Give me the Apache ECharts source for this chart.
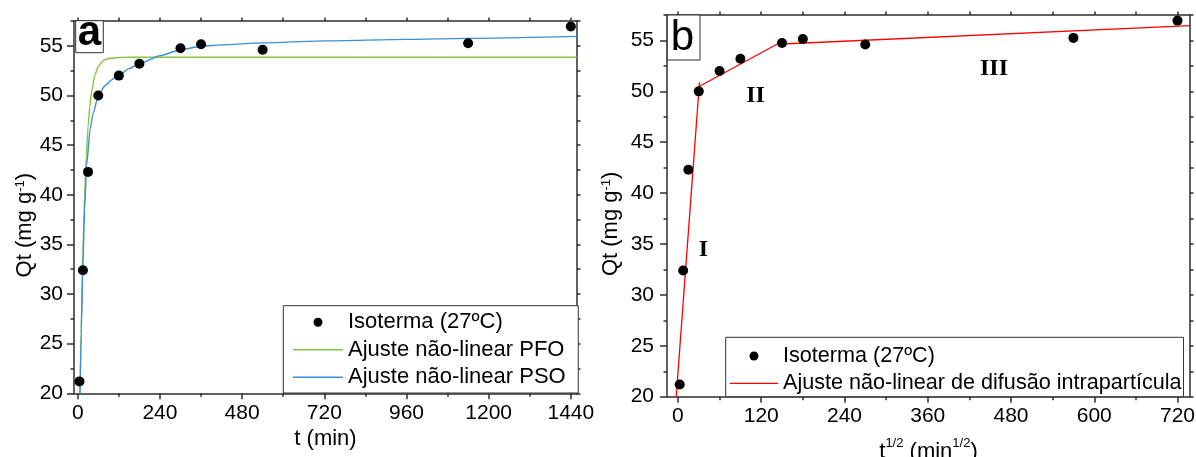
<!DOCTYPE html>
<html>
<head>
<meta charset="utf-8">
<script src="https://cdn.jsdelivr.net/npm/echarts@6/dist/echarts.min.js"></script>
<style>
  html, body { margin: 0; padding: 0; background: #fff; }
  #chart { width: 1196px; height: 457px; }
</style>
</head>
<body>
<div id="chart"></div>
<script>
// Kinetic data: adsorbed amount Qt (mg g-1) versus contact time
const timeMin = [5, 15, 30, 60, 120, 180, 300, 360, 540, 1140, 1440];
const qtValues = [21.2, 32.4, 42.3, 50.0, 52.0, 53.2, 54.75, 55.15, 54.6, 55.25, 56.95];
// Same measurements on the t^1/2 axis of panel b
const rootTime = [2.5, 7.5, 15, 30, 60, 90, 150, 180, 270, 570, 720];

// Pseudo-first-order fitted curve
const pfoTime = [6.6, 10, 15, 20, 25, 30, 35, 40, 50, 60, 75, 90, 120, 150, 1458];
const pfoQt = [20.0, 26.6, 34.4, 40.0, 44.0, 46.85, 48.86, 50.3, 52.05, 52.94, 53.52, 53.73, 53.83, 53.85, 53.85];

// Pseudo-second-order fitted curve
const psoTime = [6.7, 10, 14.6, 20, 26, 36, 45, 60, 80, 100, 120, 150, 180, 240, 300, 360, 420, 540, 720, 960, 1140, 1458];
const psoQt = [20.0, 26.0, 32.4, 38.5, 43.0, 46.6, 48.2, 50.0, 51.0, 51.6, 52.05, 52.7, 53.2, 54.0, 54.6, 54.95, 55.1, 55.3, 55.5, 55.65, 55.75, 55.95];

// Intraparticle diffusion: three linear stages (I, II, III)
const stage1X = [-2.55, 31];
const stage1Y = [20, 50.9];
const stage2X = [31, 150];
const stage2Y = [50.5, 54.9];
const stage3X = [150, 738];
const stage3Y = [54.65, 56.45];

// Tick values
const xTicksA = [0, 240, 480, 720, 960, 1200, 1440];
const xMinorA = [120, 360, 600, 840, 1080, 1320];
const xTopA = [0, 120, 240, 360, 480, 600, 720, 840, 960, 1080, 1200, 1320, 1440];
const xTicksB = [0, 120, 240, 360, 480, 600, 720];
const xMinorB = [60, 180, 300, 420, 540, 660];
const xTopB = [0, 60, 120, 180, 240, 300, 360, 420, 480, 540, 600, 660, 720];
const yTicks = [20, 25, 30, 35, 40, 45, 50, 55];
const yMinor = [22.5, 27.5, 32.5, 37.5, 42.5, 47.5, 52.5, 57.5];
const yRight = [20, 22.5, 25, 27.5, 30, 32.5, 35, 37.5, 40, 42.5, 45, 47.5, 50, 52.5, 55, 57.5];

const NAME_ISO = 'Isoterma (27ºC)';
const NAME_PFO = 'Ajuste não-linear PFO';
const NAME_PSO = 'Ajuste não-linear PSO';
const NAME_DIF = 'Ajuste não-linear de difusão intrapartícula';

const FONT = '"Liberation Sans", Arial, sans-serif';
const AXIS = '#2e2e2e';
const TXT = '#000';
const C_PFO = '#84c441';
const C_PSO = '#3b8fd4';
const C_DIF = '#ff0000';

const zip = (xs, ys) => xs.map((x, i) => [x, ys[i]]);

function axis(gridIndex, position, min, max, extra) {
  const base = {
    type: 'value', gridIndex, position, min, max,
    splitLine: { show: false },
    axisLine: { show: true, onZero: false, lineStyle: { color: AXIS, width: 1.5 } },
    axisTick: { show: false },
    axisLabel: { show: false },
    minorTick: { show: false }
  };
  return Object.assign(base, extra || {});
}
const hiddenLine = { show: false, onZero: false };
function ticks(values, len) {
  return { show: true, inside: false, customValues: values, length: len, lineStyle: { color: AXIS, width: 1.5 } };
}
function labels(values, margin) {
  return { show: true, customValues: values, margin, fontSize: 21, color: TXT, fontFamily: FONT,
           formatter: v => String(v) };
}
const richSup = {
  m: { fontSize: 22, color: TXT, fontFamily: FONT, lineHeight: 30 },
  sup: { fontSize: 13, color: TXT, fontFamily: FONT, verticalAlign: 'top', lineHeight: 13 }
};
const nameStyle = { fontSize: 22, color: TXT, fontFamily: FONT, rich: richSup };
// the Qt titles sit a little below the middle of their axes
const yNameStyle = { fontSize: 22, color: TXT, fontFamily: FONT, rich: richSup, padding: [0, 36, 0, 0] };
// thin horizontal bar used as the legend key of a fitted line
const LINE_ICON = 'path://M0,0L50,0L50,1.4L0,1.4Z';

const X_A = [-11, 1458];
const X_B = [-15.8, 738];
const Y_R = [20, 57.5];

const option = {
  animation: false,
  backgroundColor: '#fff',
  grid: [
    { left: 74, top: 21, width: 503, height: 372.3, outerBoundsMode: 'none' },
    { left: 667, top: 15, width: 523, height: 381.7, outerBoundsMode: 'none' }
  ],
  xAxis: [
    axis(0, 'bottom', X_A[0], X_A[1], {
      axisTick: ticks(xTicksA, 6), axisLabel: labels(xTicksA, 9),
      name: 't (min)', nameLocation: 'middle', nameGap: 31, nameTextStyle: nameStyle
    }),
    axis(0, 'bottom', X_A[0], X_A[1], { axisLine: hiddenLine, axisTick: ticks(xMinorA, 3.5) }),
    axis(0, 'top', X_A[0], X_A[1], { axisTick: ticks(xTopA, 3.5) }),
    axis(1, 'bottom', X_B[0], X_B[1], {
      axisTick: ticks(xTicksB, 6), axisLabel: labels(xTicksB, 9),
      name: '{m|t}{sup|1/2}{m| (min}{sup|1/2}{m|)}', nameLocation: 'middle', nameGap: 40, nameTextStyle: nameStyle
    }),
    axis(1, 'bottom', X_B[0], X_B[1], { axisLine: hiddenLine, axisTick: ticks(xMinorB, 3.5) }),
    axis(1, 'top', X_B[0], X_B[1], { axisTick: ticks(xTopB, 3.5) })
  ],
  yAxis: [
    axis(0, 'left', Y_R[0], Y_R[1], {
      axisTick: ticks(yTicks, 7), axisLabel: labels(yTicks, 11),
      name: 'Qt (mg g{sup|-1})', nameLocation: 'middle', nameGap: 38, nameTextStyle: yNameStyle
    }),
    axis(0, 'left', Y_R[0], Y_R[1], { axisLine: hiddenLine, axisTick: ticks(yMinor, 3.5) }),
    axis(0, 'right', Y_R[0], Y_R[1], { axisTick: ticks(yRight, 3.5) }),
    axis(1, 'left', Y_R[0], Y_R[1], {
      axisTick: ticks(yTicks, 7), axisLabel: labels(yTicks, 13),
      name: 'Qt (mg g{sup|-1})', nameLocation: 'middle', nameGap: 45, nameTextStyle: yNameStyle
    }),
    axis(1, 'left', Y_R[0], Y_R[1], { axisLine: hiddenLine, axisTick: ticks(yMinor, 3.5) }),
    axis(1, 'right', Y_R[0], Y_R[1], { axisTick: ticks(yRight, 3.5) })
  ],
  legend: [
    {
      orient: 'vertical', left: 283.3, top: 305.7,
      padding: [5.6, 12.6, 4.7, 9.7], itemGap: 5.5, itemWidth: 50, itemHeight: 9,
      borderColor: '#333', borderWidth: 1, backgroundColor: '#fff', selectedMode: false,
      textStyle: { fontSize: 22, lineHeight: 22, color: TXT, fontFamily: FONT },
      data: [
        { name: NAME_ISO, icon: 'circle' },
        { name: NAME_PFO, icon: LINE_ICON, itemStyle: { color: C_PFO } },
        { name: NAME_PSO, icon: LINE_ICON, itemStyle: { color: C_PSO } }
      ]
    },
    {
      orient: 'vertical', left: 725.7, top: 337.3,
      padding: [7.7, 2, 2.4, 4.3], itemGap: 5.3, itemWidth: 48, itemHeight: 9,
      borderColor: '#333', borderWidth: 1, backgroundColor: '#fff', selectedMode: false,
      textStyle: { fontSize: 21.6, lineHeight: 22, color: TXT, fontFamily: FONT },
      data: [
        { name: NAME_ISO, icon: 'circle' },
        { name: NAME_DIF, icon: LINE_ICON, itemStyle: { color: C_DIF } }
      ]
    }
  ],
  series: [
    {
      name: NAME_PFO, type: 'line', xAxisIndex: 0, yAxisIndex: 0,
      data: zip(pfoTime, pfoQt), symbol: 'none', smooth: 0.2, smoothMonotone: 'x',
      lineStyle: { color: C_PFO, width: 1.4 }, itemStyle: { color: C_PFO }, z: 3
    },
    {
      name: NAME_PSO, type: 'line', xAxisIndex: 0, yAxisIndex: 0,
      data: zip(psoTime, psoQt), symbol: 'none', smooth: 0.2, smoothMonotone: 'x',
      lineStyle: { color: C_PSO, width: 1.4 }, itemStyle: { color: C_PSO }, z: 3
    },
    {
      name: NAME_ISO, type: 'scatter', xAxisIndex: 0, yAxisIndex: 0,
      data: zip(timeMin, qtValues), symbol: 'circle', symbolSize: 10,
      itemStyle: { color: '#000', opacity: 1 }, z: 5
    },
    {
      name: NAME_DIF, type: 'line', xAxisIndex: 3, yAxisIndex: 3,
      data: zip(stage1X, stage1Y), symbol: 'none',
      lineStyle: { color: C_DIF, width: 1.3 }, itemStyle: { color: C_DIF }, z: 3
    },
    {
      name: NAME_DIF, type: 'line', xAxisIndex: 3, yAxisIndex: 3,
      data: zip(stage2X, stage2Y), symbol: 'none',
      lineStyle: { color: C_DIF, width: 1.3 }, itemStyle: { color: C_DIF }, z: 3
    },
    {
      name: NAME_DIF, type: 'line', xAxisIndex: 3, yAxisIndex: 3,
      data: zip(stage3X, stage3Y), symbol: 'none',
      lineStyle: { color: C_DIF, width: 1.3 }, itemStyle: { color: C_DIF }, z: 3
    },
    {
      name: NAME_ISO, type: 'scatter', xAxisIndex: 3, yAxisIndex: 3,
      data: zip(rootTime, qtValues), symbol: 'circle', symbolSize: 10,
      itemStyle: { color: '#000', opacity: 1 }, z: 5
    }
  ],
  graphic: [
    // panel letters in framed boxes
    { type: 'rect', shape: { x: 75.7, y: 20.7, width: 27.6, height: 32 },
      style: { fill: '#fff', stroke: '#333', lineWidth: 1 }, z: 10 },
    { type: 'text', x: 89.5, y: 33.3, z: 11,
      style: { text: 'a', font: 'bold 42px "Liberation Sans", Arial, sans-serif', fill: '#000', align: 'center', verticalAlign: 'middle' } },
    { type: 'rect', shape: { x: 667.3, y: 15, width: 32.7, height: 45 },
      style: { fill: '#fff', stroke: '#333', lineWidth: 1 }, z: 10 },
    { type: 'text', x: 682.5, y: 38.1, z: 11,
      style: { text: 'b', font: '42px "Liberation Sans", Arial, sans-serif', fill: '#000', align: 'center', verticalAlign: 'middle' } },
    // diffusion stage labels
    { type: 'text', x: 703.3, y: 250, z: 11,
      style: { text: 'I', font: 'bold 24px "Liberation Serif", "Times New Roman", serif', fill: '#000', align: 'center', verticalAlign: 'middle' } },
    { type: 'text', x: 755.5, y: 95.5, z: 11,
      style: { text: 'II', font: 'bold 24px "Liberation Serif", "Times New Roman", serif', fill: '#000', align: 'center', verticalAlign: 'middle' } },
    { type: 'text', x: 994, y: 68.3, z: 11,
      style: { text: 'III', font: 'bold 24px "Liberation Serif", "Times New Roman", serif', fill: '#000', align: 'center', verticalAlign: 'middle' } }
  ]
};

const chart = echarts.init(document.getElementById('chart'), null, { renderer: 'canvas' });
chart.setOption(option);
</script>
</body>
</html>
